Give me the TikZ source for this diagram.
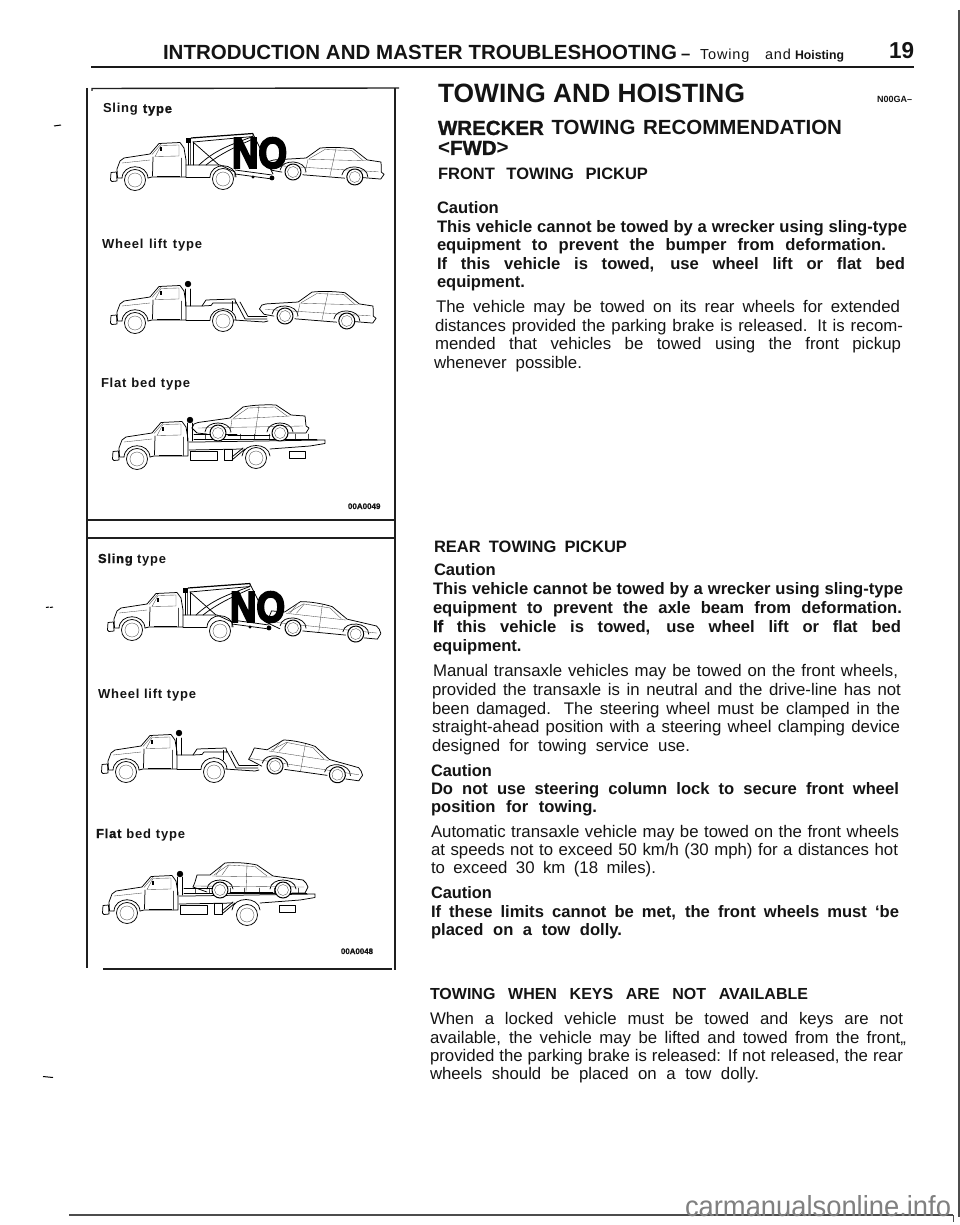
\documentclass[tikz,border=0pt]{standalone}
\usepackage{fontspec}
\setmainfont{Liberation Sans}
\usepackage{graphicx}
\newsavebox\fitbox
\newcommand\fitl[2]{\sbox\fitbox{#2}\ifdim\wd\fitbox>#1pt\relax\resizebox{#1pt}{\height}{\usebox\fitbox}\else\makebox[#1pt][s]{#2}\fi}
\newcommand\hv[1]{{\addfontfeatures{FakeBold=1.2}#1}}
\newcommand\tline[6]{\node[#5] (#1) at (#2,#3) {\fitl{#4}{#6}};}
\tikzset{
 tx/.style={anchor=base west,inner sep=0pt,outer sep=0pt,text=black!92},
 body/.style={tx,font=\fontsize{16.8}{18}\selectfont},
 bold/.style={tx,font=\fontsize{16.6}{18}\selectfont\bfseries},
 head/.style={tx,font=\fontsize{20.5}{24}\selectfont\bfseries},
 lab/.style={tx,font=\fontsize{13}{14}\selectfont\bfseries\addfontfeatures{LetterSpace=6}},
 code/.style={tx,font=\fontsize{8}{10}\selectfont\bfseries\addfontfeatures{FakeBold=0.8}},
 nomark/.style={anchor=center,inner sep=0pt,outer sep=0pt,font=\fontsize{40}{44}\selectfont\bfseries\addfontfeatures{FakeBold=5}},
 rule/.style={line width=1.4pt,draw=black!88},
 vl/.style={line width=.75pt,black,line join=round,line cap=round},
 tl/.style={line width=.35pt,black!70,line cap=round},
 fl/.style={fill=black,draw=none}
}
\newcommand\bigwheel[2]{\draw[vl,fill=white] (#1,#2) circle (10.5);\draw[tl] (#1,#2) circle (7);}
\newcommand\smwheel[2]{\draw[vl,fill=white,line width=1pt] (#1,#2) circle (8);\draw[tl] (#1,#2) circle (5.5);}
\newcommand\truckcab{%
 \draw[vl] (-24,-7.5) -- (-18.5,-8) -- (-18,1) -- (-23,1.5) -- (-24.5,0) -- cycle;
 \draw[vl] (-13,-2) -- (-17.5,-2) -- (-18,-11) -- (-15,-19) -- (-11,-22) -- (15,-26) -- (24,-36.5) -- (45,-37.5) -- (49,-32) -- (51,-20) -- (51,-3) -- (17,-3) -- (13,-2);
 \draw[vl] (-13,-2) .. controls (-12,-17) and (12,-17) .. (13,-2);
 \draw[vl] (18,-23) -- (17.5,-4);
 \draw[tl] (46,-22) -- (46,-3);
 \draw[tl] (26,-34.5) -- (44,-35) -- (44,-24) -- (20,-23.5) -- cycle;
 \draw[tl] (17,-25.5) -- (26,-36);
 \fill (24.5,-32.5) rectangle (26.5,-28.5);
 \draw[tl] (-13,-17) -- (15,-20);
 \draw[line width=1pt] (22,-3.5) -- (45,-3.5);
}
\newcommand\slingrig{%
 \draw[vl] (51,-15) -- (85,-15) -- (100,-8) -- (100,-3);
 \draw[vl] (51,-3) -- (75,-3);
 \draw[vl] (75,-3) .. controls (76,-18) and (100,-18) .. (101,-3);
 \draw[vl] (53,-38) -- (53,-15);
 \draw[vl] (58,-38) -- (58,-15);
 \draw[tl] (55.5,-38) -- (55.5,-15);
 \fill (50.5,-42) rectangle (55.5,-37);
 \draw[line width=1.2pt] (56,-42) -- (118,-46.5);
 \draw[vl] (58,-38) -- (118,-43.5) -- (118,-46.5);
 \draw[vl] (58,-38) -- (84,-15);
 \draw[vl] (64,-15) .. controls (80,-30) and (95,-35) .. (118,-43.5);
 \draw[vl] (71,-15) .. controls (85,-26) and (100,-33) .. (118,-41);
 \draw[vl] (118,-46) -- (138,-6);
 \draw[vl] (100,-10) -- (137,-5);
 \draw[vl] (100,-6) -- (137,-1);
 \fill (137,-2) circle (2.4);
 \fill (118,-3) circle (1.6);
}
\newcommand\liftrig{%
 \draw[vl] (51,-17) -- (67,-17) -- (71,-23) -- (100,-24) -- (101,-19);
 \draw[vl] (67,-17) -- (76,-17.5) -- (78,-20) -- (100,-20);
 \draw[vl] (51,-3) -- (75,-3);
 \draw[vl] (75,-3) .. controls (76,-18) and (100,-18) .. (101,-3);
 \draw[vl] (50.5,-34) -- (50.5,-17);
 \draw[vl] (55.5,-34) -- (55.5,-17);
 \draw[vl,fill=black] (53,-39) circle (2.8);
 \draw[vl] (101,-21) -- (110,-4) -- (132,-4);
 \draw[vl] (105,-21) -- (113,-6.5) -- (132,-6.5);
 \draw[vl] (99,-3) -- (129,-1) -- (133,-2);
 \draw[line width=1pt] (97,-22) -- (97,-12);
}
\newcommand\bedrig{%
 \draw[vl] (50.5,-36) -- (50.5,-18);
 \draw[vl] (55.5,-36) -- (55.5,-18);
 \draw[vl,fill=black] (53,-39) circle (2.8);
 \draw[vl] (52,-17) -- (60,-17) -- (188,-19) -- (188,-15.5) -- (173,-13) -- (133,-10);
 \draw[vl] (52,-9) -- (106,-10);
 \draw[vl] (57,-20) -- (180,-20);
 \foreach \px in {68,82,103,117,132,147,158,171}{\draw[tl] (\px,-25) -- (\px,-20);}
 \draw[vl] (57,-25) -- (100,-25);
 \draw[vl] (53,-8) rectangle (80,1);
 \draw[vl] (87,-10) rectangle (95,1);
 \draw[vl] (95,1) -- (108,-10);
 \draw[vl] (95,-2) -- (106,-11);
 \draw[vl] (152,-8) rectangle (168,-1);
 \draw[vl] (105,-3) .. controls (106,-17) and (132,-17) .. (133,-3);
}
\newcommand\carmodelA{%
 \draw[vl] (-13,-1) .. controls (-12,-13) and (12,-13) .. (13,-1);
 \draw[vl] (49,-1) .. controls (50,-13) and (74,-13) .. (75,-1);
 \draw[vl] (-26,-5) -- (-24,-9) -- (-20,-10.5) -- (12,-15) -- (25,-26) .. controls (35,-28) and (48,-28.5) .. (58,-28) -- (73,-18) -- (87,-17) -- (88,-7) -- (91,-5) -- (88,0) -- (70,0);
 \draw[vl] (-26,-5) -- (-21,0) -- (-11,1);
 \draw[vl] (10,2) -- (52,2);
 \draw[tl] (41,-27) -- (37,2);
 \draw[tl] (15,-14.5) -- (30,-25) -- (57,-26) -- (69,-17);
 \draw[tl] (15,-14) -- (72,-17);
 \draw[tl] (-20,-5) -- (85,-7);
 \draw[tl] (14,-14) -- (12,0);
 \smwheel{0}{0}\smwheel{62}{0}
}
\newcommand\carmodelB{%
 \draw[vl] (-13,-1) .. controls (-12,-13) and (12,-13) .. (13,-1);
 \draw[vl] (50,-1) .. controls (51,-13) and (75,-13) .. (76,-1);
 \draw[vl] (-27,-3) -- (-25,-8) -- (-23,-15) -- (-10,-15) -- (5,-27) .. controls (15,-28) and (28,-27) .. (37,-25) -- (53,-14) -- (83,-10) -- (86,-7) -- (88,-3) -- (85,3) -- (72,3);
 \draw[vl] (-27,-3) -- (-13,2);
 \draw[vl] (10,2) -- (53,2);
 \draw[tl] (27,-26) -- (26,2);
 \draw[tl] (-6,-15) -- (8,-25) -- (35,-23.5) -- (47,-14);
 \draw[tl] (-8,-14) -- (52,-13);
 \draw[tl] (-26,-4) -- (84,-3);
 \draw[tl] (3,-26) -- (-4,-15);
 \draw[tl] (9,-25) -- (2,-15);
 \smwheel{0}{0}\smwheel{63}{0}
}
\begin{document}
\begin{tikzpicture}[x=1pt,y=-1pt]
\useasboundingbox (0,0) rectangle (960,1225);
\fill[white] (0,0) rectangle (960,1225);
% header
\tline{h1}{163}{60}{514}{head}{INTRODUCTION AND MASTER TROUBLESHOOTING}
\tline{h2}{681}{60}{11}{bold}{–}
\tline{h3}{700}{60}{91}{tx,font=\fontsize{14.5}{16}\selectfont\addfontfeatures{LetterSpace=6}}{Towing and}
\tline{h4}{795}{60}{49}{tx,font=\fontsize{12.5}{16}\selectfont\bfseries}{Hoisting}
\tline{h5}{889}{59}{25}{tx,font=\fontsize{23}{26}\selectfont\bfseries}{19}
\draw[line width=2.6pt,black!90] (91,67) -- (914,67);
% frames
\draw[rule] (92,91) -- (92,88.5) -- (399,88);
\draw[rule] (87,88) -- (87,968);
\draw[rule] (395,88) -- (395,970);
\draw[rule] (86,520) -- (395,520);
\draw[rule] (86,538) -- (395,538);
\draw[rule] (103,969) -- (392,969);
\draw[line width=1.6pt,black!70] (959,10) -- (959,1217);
\draw[line width=1.3pt,black!70] (69,1215) -- (953,1215);
\draw[line width=.8pt,black!70] (953,1215) -- (953,1222);
% margin marks
\draw[line width=1pt] (54,126) -- (61,125);
\draw[line width=1pt] (46,607.5) -- (49,607);
\draw[line width=1pt] (50,607.5) -- (53,607);
\draw[line width=1pt] (43,1076.5) -- (53,1077.5);
% panel 1 labels
\tline{a1}{103}{113}{69}{lab}{Sling \hv{type}}
\tline{a2}{102}{248}{100}{lab}{Wheel lift type}
\tline{a3}{101}{387}{89}{lab}{Flat bed type}
\tline{a4}{348}{509}{33}{code}{00A0049}
% panel 2 labels
\tline{b1}{98}{563}{68}{lab}{\hv{Sling} type}
\tline{b2}{98}{698}{98}{lab}{Wheel lift type}
\tline{b3}{96}{838}{89}{lab}{\hv{Flat} bed type}
\tline{b4}{341}{954}{32}{code}{00A0048}
% panel 1 vehicles
\begin{scope}[shift={(135,180)}]
 \truckcab\slingrig\bigwheel{0}{0}\bigwheel{88}{-1}
\end{scope}
\begin{scope}[shift={(293,172)},rotate=-4.6]\carmodelA\end{scope}
\node[nomark] (no1) at (259.5,153) {\resizebox{55pt}{30pt}{NO}};
\begin{scope}[shift={(135,323)}]
 \truckcab\liftrig\bigwheel{0}{0}\bigwheel{88}{-2}
\end{scope}
\begin{scope}[shift={(285,316)},rotate=-4.6]\carmodelA\end{scope}
\begin{scope}[shift={(137,459)}]
 \truckcab\bedrig\bigwheel{0}{0}\bigwheel{119}{-1}
\end{scope}
\begin{scope}[shift={(218,433)},rotate=0]\carmodelA\end{scope}
% panel 2 vehicles
\begin{scope}[shift={(132,630)}]
 \truckcab\slingrig\bigwheel{0}{0}\bigwheel{88}{1}
\end{scope}
\begin{scope}[shift={(293,628)},rotate=-5.5]\carmodelB\end{scope}
\node[nomark] (no2) at (257.5,607) {\resizebox{55pt}{30pt}{NO}};
\begin{scope}[shift={(126,772)}]
 \truckcab\liftrig\bigwheel{0}{0}\bigwheel{88}{0}
\end{scope}
\begin{scope}[shift={(275,766)},rotate=-8]\carmodelB\end{scope}
\begin{scope}[shift={(127,913)}]
 \truckcab\bedrig\bigwheel{0}{0}\bigwheel{120}{2}
\end{scope}
\begin{scope}[shift={(220,890)}]\carmodelB\end{scope}
% right column
\tline{c1}{438}{103}{307}{tx,font=\fontsize{26.5}{32}\selectfont\bfseries}{TOWING AND HOISTING}
\tline{c2}{877}{103}{37}{tx,font=\fontsize{9}{11}\selectfont\bfseries}{N00GA--}
\tline{c3}{438}{135}{404}{tx,font=\fontsize{20.5}{24}\selectfont\bfseries}{\hv{WRECKER} TOWING RECOMMENDATION}
\tline{c4}{438}{155}{77}{tx,font=\fontsize{20.5}{24}\selectfont\bfseries}{<\hv{FWD}>}
\tline{c5}{438}{180}{210}{tx,font=\fontsize{16.5}{20}\selectfont\bfseries}{FRONT TOWING PICKUP}
\tline{d1}{437}{213}{62}{bold}{Caution}
\tline{d2}{437}{232}{470}{bold}{This vehicle cannot be towed by a wrecker using sling-type}
\tline{d3}{437}{250}{449}{bold}{equipment to prevent the bumper from deformation.}
\tline{d4}{437}{269}{468}{bold}{If this vehicle is towed, use wheel lift or flat bed}
\tline{d5}{437}{287}{88}{bold}{equipment.}
\tline{d6}{436}{312}{464}{body}{The vehicle may be towed on its rear wheels for extended}
\tline{d7}{435}{331}{468}{body}{distances provided the parking brake is released. It is recom-}
\tline{d8}{435}{349}{466}{body}{mended that vehicles be towed using the front pickup}
\tline{d9}{434}{368}{148}{body}{whenever possible.}
\tline{e1}{434}{552}{193}{tx,font=\fontsize{16.5}{20}\selectfont\bfseries}{REAR TOWING PICKUP}
\tline{e2}{434}{575}{62}{bold}{Caution}
\tline{e3}{433}{594}{470}{bold}{This vehicle cannot be towed by a wrecker using sling-type}
\tline{e4}{433}{613}{469}{bold}{equipment to prevent the axle beam from deformation.}
\tline{e5}{433}{632}{468}{bold}{\hv{If} this vehicle is towed, use wheel lift or flat bed}
\tline{e6}{433}{651}{89}{bold}{equipment.}
\tline{e7}{433}{676}{465}{body}{Manual transaxle vehicles may be towed on the front wheels,}
\tline{e8}{432}{695}{469}{body}{provided the transaxle is in neutral and the drive-line has not}
\tline{e9}{432}{714}{468}{body}{been damaged. The steering wheel must be clamped in the}
\tline{e10}{432}{732}{468}{body}{straight-ahead position with a steering wheel clamping device}
\tline{e11}{432}{751}{258}{body}{designed for towing service use.}
\tline{f1}{431}{776}{61}{bold}{Caution}
\tline{f2}{431}{794}{468}{bold}{Do not use steering column lock to secure front wheel}
\tline{f3}{431}{812}{166}{bold}{position for towing.}
\tline{f4}{431}{837}{468}{body}{Automatic transaxle vehicle may be towed on the front wheels}
\tline{f5}{431}{855}{467}{body}{at speeds not to exceed 50 km/h (30 mph) for a distances hot}
\tline{f6}{431}{873}{225}{body}{to exceed 30 km (18 miles).}
\tline{f7}{431}{898}{61}{bold}{Caution}
\tline{f8}{431}{917}{468}{bold}{If these limits cannot be met, the front wheels must ‘be}
\tline{f9}{431}{935}{191}{bold}{placed on a tow dolly.}
\tline{g1}{430}{999}{378}{tx,font=\fontsize{16}{20}\selectfont\bfseries}{TOWING WHEN KEYS ARE NOT AVAILABLE}
\tline{g2}{430}{1024}{473}{body}{When a locked vehicle must be towed and keys are not}
\tline{g3}{430}{1043}{476}{body}{available, the vehicle may be lifted and towed from the front,,}
\tline{g4}{430}{1061}{473}{body}{provided the parking brake is released: If not released, the rear}
\tline{g5}{430}{1079}{329}{body}{wheels should be placed on a tow dolly.}
% watermark
\tline{wm}{685}{1216}{266}{tx,text=black!50,font=\fontsize{29}{32}\selectfont}{carmanualsonline.info}
\end{tikzpicture}
\end{document}
